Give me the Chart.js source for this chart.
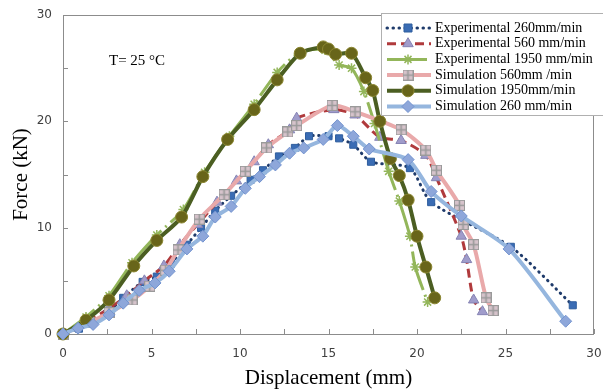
<!DOCTYPE html>
<html>
<head>
<meta charset="utf-8">
<script src="https://cdn.jsdelivr.net/npm/chart.js"></script>
<style>
html, body { margin: 0; padding: 0; background: #fff; }
#wrap { position: relative; width: 603px; height: 392px; }
</style>
</head>
<body>
<div id="wrap"><canvas id="forceChart" width="603" height="392"></canvas></div>
<script>
// values (displacement in mm, force in kN)
const exp260X = [0, 0.9, 1.6, 2.5, 3.4, 4.5, 5.3, 6.1, 7.0, 7.8, 8.6, 9.5, 10.6, 11.3, 12.2, 13.1, 13.9, 15.0, 15.6, 16.4, 17.4, 19.6, 20.8, 25.3, 28.8];
const exp260Y = [0, 0.5, 1.0, 1.9, 3.4, 4.9, 5.4, 6.6, 8.4, 10.0, 11.6, 13.0, 14.5, 15.4, 16.7, 17.5, 18.6, 18.6, 18.4, 17.8, 16.2, 15.6, 12.4, 8.2, 2.7];

const exp560X = [0, 1.4, 2.6, 3.6, 4.6, 5.7, 6.6, 7.6, 8.7, 9.8, 10.8, 11.6, 12.8, 13.2, 15.3, 16.5, 17.9, 19.1, 20.5, 21.1, 22.5, 22.8, 23.2, 23.7];
const exp560Y = [0, 1.2, 2.4, 3.6, 5.0, 6.4, 8.4, 10.3, 12.4, 14.4, 16.2, 17.8, 19.2, 20.3, 21.1, 20.6, 18.5, 18.2, 16.8, 14.7, 9.2, 7.0, 3.2, 2.1];

const exp1950X = [0, 1.3, 2.6, 3.9, 5.3, 6.8, 8.0, 9.4, 10.8, 12.1, 13.4, 14.8, 15.6, 16.3, 17.0, 17.6, 18.4, 19.0, 19.6, 19.9, 20.6];
const exp1950Y = [0, 1.6, 3.6, 6.7, 9.3, 11.7, 15.2, 18.6, 21.6, 24.6, 26.5, 26.7, 25.3, 25.0, 22.8, 19.8, 15.3, 12.5, 9.2, 6.3, 3.0];

const sim560X = [0, 1.5, 2.6, 3.9, 4.9, 5.8, 6.5, 7.7, 9.1, 10.3, 11.5, 12.7, 13.2, 15.2, 16.5, 19.1, 20.5, 21.1, 22.4, 22.6, 23.2, 23.9, 24.3];
const sim560Y = [0, 1.1, 2.0, 3.2, 4.5, 6.0, 7.9, 10.8, 13.1, 15.3, 17.5, 19.0, 19.6, 21.5, 20.9, 19.2, 17.3, 15.4, 12.1, 10.3, 8.4, 3.4, 2.2];

const sim1950X = [0, 1.3, 2.6, 4.0, 5.3, 6.7, 7.9, 9.3, 10.8, 12.1, 13.4, 14.7, 15.0, 15.4, 16.3, 17.1, 17.5, 17.9, 18.5, 19.0, 19.5, 20.0, 20.5, 21.0];
const sim1950Y = [0, 1.3, 3.2, 6.4, 8.8, 11.0, 14.8, 18.3, 21.1, 23.9, 26.4, 27.0, 26.8, 26.3, 26.4, 24.1, 22.9, 20.0, 16.5, 14.9, 12.6, 9.2, 6.3, 3.4];

const sim260X = [0, 0.85, 1.7, 2.6, 3.4, 4.3, 5.2, 6.0, 7.0, 7.9, 8.6, 9.5, 10.3, 11.1, 12.0, 12.8, 13.6, 14.7, 15.5, 16.4, 17.3, 19.5, 20.8, 22.5, 25.2, 28.4];
const sim260Y = [0, 0.55, 0.9, 1.8, 2.9, 4.1, 4.8, 5.9, 8.0, 9.2, 11.0, 12.0, 13.7, 14.8, 15.9, 17.0, 17.5, 18.3, 19.6, 18.6, 17.4, 16.4, 13.4, 11.1, 8.0, 1.2];

const seriesNames = ['Experimental 260mm/min', 'Experimental 560 mm/min', 'Experimental 1950 mm/min',
                     'Simulation 560mm /min', 'Simulation 1950mm/min', 'Simulation 260 mm/min'];
const xTitle = 'Displacement (mm)';
const yTitle = 'Force (kN)';
const noteText = 'T= 25 \u00B0C';

const toPoints = (xs, ys) => xs.map((v, i) => ({ x: v, y: ys[i] }));

// gray square with a plus, used for the simulation 560 markers
const crossBox = (() => {
    const c = document.createElement('canvas');
    c.width = 11; c.height = 11;
    const g = c.getContext('2d');
    g.fillStyle = '#d6c3cb';
    g.fillRect(0, 0, 11, 11);
    g.strokeStyle = '#9a9a9a';
    g.lineWidth = 1;
    g.strokeRect(0.5, 0.5, 10, 10);
    g.lineWidth = 1.6;
    g.beginPath();
    g.moveTo(5.5, 1); g.lineTo(5.5, 10);
    g.moveTo(1, 5.5); g.lineTo(10, 5.5);
    g.stroke();
    return c;
})();

const datasets = [
    { data: toPoints(exp260X, exp260Y), borderColor: '#1f3b6b', borderWidth: 3, borderDash: [0.5, 5.5], borderCapStyle: 'round',
      pointStyle: 'rect', pointRadius: 5, pointBackgroundColor: '#3a6cb4', pointBorderColor: '#2f5e9e', pointBorderWidth: 1 },
    { data: toPoints(exp560X, exp560Y), borderColor: '#b03a3c', borderWidth: 3, borderDash: [9, 5],
      pointStyle: 'triangle', pointRadius: 6, pointBackgroundColor: '#a09ccb', pointBorderColor: '#8583b3', pointBorderWidth: 1 },
    { data: toPoints(exp1950X, exp1950Y), borderColor: '#93b65a', borderWidth: 3, borderDash: [40, 5, 2, 5],
      pointStyle: 'star', pointRadius: 5, pointBackgroundColor: '#93b65a', pointBorderColor: '#93b65a', pointBorderWidth: 1.5 },
    { data: toPoints(sim560X, sim560Y), borderColor: '#e9a9aa', borderWidth: 4,
      pointStyle: crossBox, pointRadius: 5 },
    { data: toPoints(sim1950X, sim1950Y), borderColor: '#4b5e22', borderWidth: 4,
      pointStyle: 'circle', pointRadius: 6, pointBackgroundColor: '#68651a', pointBorderColor: '#8a8530', pointBorderWidth: 1 },
    { data: toPoints(sim260X, sim260Y), borderColor: '#95b6de', borderWidth: 4,
      pointStyle: 'rectRot', pointRadius: 6, pointBackgroundColor: '#8ea7da', pointBorderColor: '#7393cf', pointBorderWidth: 1 }
];
datasets.forEach((d, i) => {
    d.label = seriesNames[i];
    d.showLine = true;
    d.tension = 0.25;
    d.fill = false;
    d.clip = false;
    d.order = datasets.length - i; // later series sit on top
});

// legend marker, drawn by hand so line + marker show together
function drawMarker(ctx, d, x, y) {
    const r = d.pointRadius;
    ctx.save();
    ctx.setLineDash([]);
    ctx.fillStyle = d.pointBackgroundColor;
    ctx.strokeStyle = d.pointBorderColor;
    ctx.lineWidth = d.pointBorderWidth || 1;
    ctx.beginPath();
    if (d.pointStyle instanceof HTMLCanvasElement) {
        ctx.drawImage(d.pointStyle, x - d.pointStyle.width / 2, y - d.pointStyle.height / 2);
    } else if (d.pointStyle === 'rect') {
        ctx.rect(x - r * 0.8, y - r * 0.8, r * 1.6, r * 1.6); ctx.fill(); ctx.stroke();
    } else if (d.pointStyle === 'triangle') {
        ctx.moveTo(x, y - r); ctx.lineTo(x + r * 0.87, y + r * 0.5); ctx.lineTo(x - r * 0.87, y + r * 0.5);
        ctx.closePath(); ctx.fill(); ctx.stroke();
    } else if (d.pointStyle === 'star') {
        ctx.moveTo(x - r * 0.7, y - r * 0.7); ctx.lineTo(x + r * 0.7, y + r * 0.7);
        ctx.moveTo(x + r * 0.7, y - r * 0.7); ctx.lineTo(x - r * 0.7, y + r * 0.7);
        ctx.moveTo(x, y - r); ctx.lineTo(x, y + r);
        ctx.stroke();
    } else if (d.pointStyle === 'circle') {
        ctx.arc(x, y, r, 0, Math.PI * 2); ctx.fill(); ctx.stroke();
    } else if (d.pointStyle === 'rectRot') {
        ctx.moveTo(x, y - r); ctx.lineTo(x + r, y); ctx.lineTo(x, y + r); ctx.lineTo(x - r, y);
        ctx.closePath(); ctx.fill(); ctx.stroke();
    }
    ctx.restore();
}

const decorPlugin = {
    id: 'decor',
    beforeDatasetsDraw(chart) {
        const { ctx, chartArea: a, scales: { x, y } } = chart;
        ctx.save();
        ctx.strokeStyle = '#8c8c8c';
        ctx.lineWidth = 1;
        ctx.strokeRect(a.left + 0.5, a.top + 0.5, a.right - a.left - 1, a.bottom - a.top);
        ctx.beginPath();
        x.ticks.forEach(t => {
            const px = Math.round(x.getPixelForValue(t.value)) + 0.5;
            ctx.moveTo(px, a.bottom); ctx.lineTo(px, a.bottom - 5);
        });
        y.ticks.forEach(t => {
            const py = Math.round(y.getPixelForValue(t.value)) + 0.5;
            ctx.moveTo(a.left, py); ctx.lineTo(a.left + 5, py);
        });
        ctx.stroke();
        ctx.fillStyle = '#000';
        ctx.font = '15px "Liberation Serif", "Times New Roman", serif';
        ctx.textBaseline = 'middle';
        ctx.fillText(noteText, a.left + 46, a.top + 46);
        ctx.restore();
    },
    afterDraw(chart) {
        const { ctx } = chart;
        const box = { left: 381, top: 13, width: 230, height: 102 };
        ctx.save();
        ctx.fillStyle = '#fff';
        ctx.strokeStyle = '#b0b0b0';
        ctx.lineWidth = 1;
        ctx.fillRect(box.left, box.top, box.width, box.height);
        ctx.strokeRect(box.left + 0.5, box.top + 0.5, box.width, box.height);
        ctx.font = '14px "Liberation Serif", "Times New Roman", serif';
        ctx.textBaseline = 'middle';
        chart.data.datasets.forEach((d, i) => {
            const ry = box.top + 15 + i * 15.7;
            ctx.save();
            ctx.strokeStyle = d.borderColor;
            ctx.lineWidth = d.borderWidth;
            ctx.lineCap = d.borderCapStyle || 'butt';
            ctx.setLineDash(d.borderDash || []);
            ctx.beginPath();
            ctx.moveTo(box.left + 6, ry);
            ctx.lineTo(box.left + 50, ry);
            ctx.stroke();
            ctx.restore();
            drawMarker(ctx, d, box.left + 27, ry);
            ctx.fillStyle = '#000';
            ctx.fillText(d.label, box.left + 54, ry);
        });
        ctx.restore();
    }
};

const tickFont = { family: '"DejaVu Sans", Verdana, sans-serif', size: 12 };
const titleFont = { family: '"Liberation Serif", "Times New Roman", serif', size: 21 };

new Chart(document.getElementById('forceChart'), {
    type: 'scatter',
    data: { datasets: datasets },
    options: {
        responsive: false,
        animation: false,
        devicePixelRatio: 1,
        layout: { padding: { top: 15, right: 7, left: 0, bottom: 0 } },
        plugins: { legend: { display: false }, tooltip: { enabled: false } },
        scales: {
            x: {
                type: 'linear', min: 0, max: 30,
                afterFit: s => { s.height = 58; s.paddingLeft = 0; s.paddingRight = 0; },
                grid: { display: false, drawTicks: false },
                border: { display: false },
                ticks: {
                    stepSize: 2.5, autoSkip: false, maxRotation: 0, padding: 13,
                    color: '#404040', font: tickFont,
                    callback: v => (v % 5 === 0 ? String(v) : '')
                },
                title: { display: true, text: xTitle, color: '#000', font: titleFont, padding: { top: 0, bottom: 1 } }
            },
            y: {
                type: 'linear', min: 0, max: 30,
                afterFit: s => { s.width = 63; s.paddingTop = 0; s.paddingBottom = 0; },
                grid: { display: false, drawTicks: false },
                border: { display: false },
                ticks: {
                    stepSize: 5, autoSkip: false, padding: 11,
                    color: '#404040', font: tickFont,
                    callback: v => (v % 10 === 0 ? String(v) : '')
                },
                title: { display: true, text: yTitle, color: '#000', font: titleFont, padding: { top: 9, bottom: 0 } }
            }
        }
    },
    plugins: [decorPlugin]
});
</script>
</body>
</html>
